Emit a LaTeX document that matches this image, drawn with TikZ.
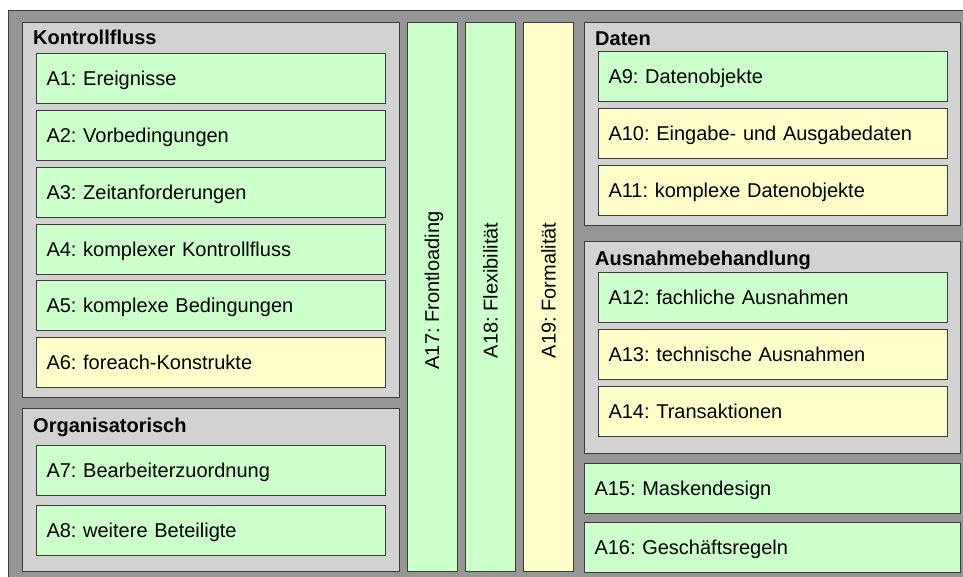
\documentclass[tikz,border=0pt]{standalone}
\usepackage{fontspec}
\setmainfont{Liberation Sans}
\frenchspacing
\definecolor{outergray}{HTML}{969696}
\definecolor{panelgray}{HTML}{D2D2D2}
\definecolor{lgreen}{HTML}{CCFFCC}
\definecolor{lyellow}{HTML}{FFFFCC}
\definecolor{edge}{HTML}{3C3C3C}
\tikzset{
  base/.style={draw=edge, line width=1pt, rectangle, anchor=north west, inner sep=0pt},
  panel/.style={base, fill=panelgray},
  item/.style={base, fill=#1, minimum height=50pt, inner xsep=10pt, align=left,
    font=\fontsize{20}{23}\selectfont, text height=14pt, text depth=0pt},
  narrow/.style={text width=329pt, minimum width=349pt},
  wide/.style={text width=356pt, minimum width=376pt},
  column/.style={draw=edge, line width=1pt, rectangle, fill=#1, rotate=90,
    minimum width=549pt, minimum height=50pt, inner sep=0pt},
  coltext/.style={rotate=90, inner sep=0pt,
    font=\fontsize{20}{23}\selectfont, text height=14pt, text depth=0pt},
  heading/.style={anchor=base west, inner sep=0pt, font=\fontsize{20}{23}\selectfont\bfseries}
}
\begin{document}
\begin{tikzpicture}[x=1pt, y=-1pt]
\useasboundingbox (0,0) rectangle (963,576);
\clip (0,0) rectangle (963,576);
% frame
\draw[draw=edge, line width=1pt, fill=outergray] (8,10) rectangle (980,600);

% Kontrollfluss
\node[panel, minimum width=377pt, minimum height=375pt] (kf) at (22,22) {};
\node[heading] (kft) at (33,44.5) {Kontrollfluss};
\node[item=lgreen, narrow] (a1) at (36,53) {A1: Ereignisse};
\node[item=lgreen, narrow] (a2) at (36,110) {A2: Vorbedingungen};
\node[item=lgreen, narrow] (a3) at (36,167) {A3: Zeitanforderungen};
\node[item=lgreen, narrow] (a4) at (36,224) {A4: komplexer Kontrollfluss};
\node[item=lgreen, narrow] (a5) at (36,280) {A5: komplexe Bedingungen};
\node[item=lyellow, narrow] (a6) at (36,337) {A6: foreach-Konstrukte};

% Organisatorisch
\node[panel, minimum width=377pt, minimum height=163pt] (org) at (22,408) {};
\node[heading] (orgt) at (33,432) {Organisatorisch};
\node[item=lgreen, narrow] (a7) at (36,445) {A7: Bearbeiterzuordnung};
\node[item=lgreen, narrow] (a8) at (36,505) {A8: weitere Beteiligte};

% cross-cutting columns
\node[column=lgreen] (a17) at (432,296.5) {};
\node[column=lgreen] (a18) at (490.5,296.5) {};
\node[column=lyellow] (a19) at (548.5,296.5) {};
\node[coltext] (a17t) at ([yshift=6pt]a17.center) {A17: Frontloading};
\node[coltext] (a18t) at ([yshift=6pt]a18.center) {A18: Flexibilität};
\node[coltext] (a19t) at ([yshift=6pt]a19.center) {A19: Formalität};

% Daten
\node[panel, minimum width=376pt, minimum height=203pt] (dat) at (584,22) {};
\node[heading] (datt) at (595,45) {Daten};
\node[item=lgreen, narrow] (a9) at (598,51) {A9: Datenobjekte};
\node[item=lyellow, narrow] (a10) at (598,108) {A10: Eingabe- und Ausgabedaten};
\node[item=lyellow, narrow] (a11) at (598,165) {A11: komplexe Datenobjekte};

% Ausnahmebehandlung
\node[panel, minimum width=376pt, minimum height=212pt] (aus) at (584,241) {};
\node[heading] (aust) at (595,265) {Ausnahmebehandlung};
\node[item=lgreen, narrow] (a12) at (598,272) {A12: fachliche Ausnahmen};
\node[item=lyellow, narrow] (a13) at (598,329) {A13: technische Ausnahmen};
\node[item=lyellow, narrow] (a14) at (598,386) {A14: Transaktionen};

% standalone requirements
\node[item=lgreen, wide] (a15) at (584,463) {A15: Maskendesign};
\node[item=lgreen, wide] (a16) at (584,522) {A16: Geschäftsregeln};
\end{tikzpicture}
\end{document}
